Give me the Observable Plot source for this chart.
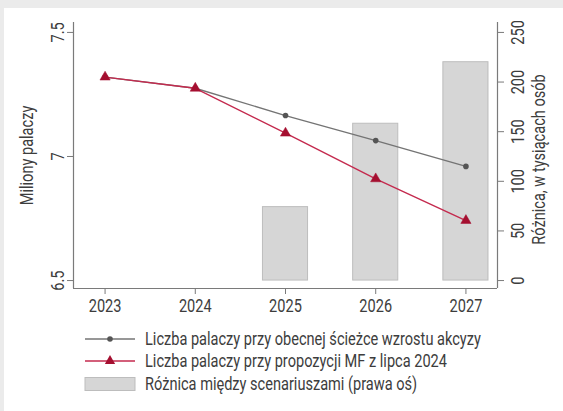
<!DOCTYPE html>
<html><head><meta charset="utf-8">
<script src="https://cdn.jsdelivr.net/npm/d3@7"></script>
<script src="https://cdn.jsdelivr.net/npm/@observablehq/plot@0.6"></script>
<style>
html,body{margin:0;padding:0}
body{width:563px;height:411px;overflow:hidden;position:relative;background:#ebebeb;font-family:Roboto,sans-serif}
#panel{position:absolute;left:4px;top:8px;right:0;bottom:0;background:#fff}
#chart{position:absolute;left:0;top:0}
#legend{position:absolute;left:0;top:320px}
</style></head><body>
<div id="panel"></div><div id="chart"></div><div id="legend"></div>
<script>
const years = [2023, 2024, 2025, 2026, 2027];
const currentPath = [7.32, 7.275, 7.165, 7.064, 6.960];
const mfProposal = [7.32, 7.275, 7.094, 6.910, 6.742];
const diffYears = [2025, 2026, 2027];
const diffValues = [74, 158, 220];
const leftTicks = [6.5, 7, 7.5];
const rightTicks = [0, 50, 100, 150, 200, 250];
const seriesNames = [
  "Liczba palaczy przy obecnej ścieżce wzrostu akcyzy",
  "Liczba palaczy przy propozycji MF z lipca 2024",
  "Różnica między scenariuszami (prawa oś)"
];
const leftTitle = "Miliony palaczy";
const rightTitle = "Różnica, w tysiącach osób";

const GRAY_LINE = "#747474", GRAY_DOT = "#555555";
const RED_LINE = "#c42a4e", RED_DOT = "#a50f30";
const BAR_FILL = "#d6d6d6", BAR_STROKE = "#bdbdbd";
const AXIS = "#7a7a7a", TEXT = "#3d3d3d";
const SQUISH = 0.81;

const xDomain = [2022.65, 2027.35];
const yDomain = [6.468, 7.54];
const toLeft = r => 6.5 + r / 250;

const cur = years.map((y, i) => ({year: y, v: currentPath[i]}));
const mf = years.map((y, i) => ({year: y, v: mfProposal[i]}));
const bars = diffYears.map((y, i) => ({year: y, v: diffValues[i]}));

const chart = Plot.plot({
  width: 563, height: 320,
  marginLeft: 73, marginRight: 66, marginTop: 22, marginBottom: 32,
  style: {background: "transparent", fontFamily: "Roboto, sans-serif", fontSize: "18px", color: TEXT, overflow: "visible"},
  x: {domain: xDomain},
  y: {domain: yDomain},
  marks: [
    Plot.rectY(bars, {x1: d => d.year - 0.25, x2: d => d.year + 0.25, y1: 6.5, y2: d => toLeft(d.v), fill: BAR_FILL, stroke: BAR_STROKE, strokeWidth: 1}),
    Plot.line(cur, {x: "year", y: "v", stroke: GRAY_LINE, strokeWidth: 1.4}),
    Plot.dot(cur, {x: "year", y: "v", r: 2.8, fill: GRAY_DOT}),
    Plot.line(mf, {x: "year", y: "v", stroke: RED_LINE, strokeWidth: 1.4}),
    Plot.dot(mf, {x: "year", y: "v", r: 3.8, symbol: "triangle", fill: RED_DOT, stroke: RED_DOT, strokeWidth: 0.5}),
    Plot.ruleX([xDomain[0], xDomain[1]], {stroke: AXIS, strokeWidth: 1.2}),
    Plot.ruleY([yDomain[0]], {stroke: AXIS, strokeWidth: 1.2}),
    Plot.axisX({ticks: years, tickFormat: d => String(d), tickSize: 6, tickPadding: 5, label: null, stroke: AXIS, fill: TEXT}),
    Plot.axisY({anchor: "left", ticks: leftTicks, tickFormat: d => String(d), tickSize: 6, tickPadding: 4, tickRotate: -90, label: null, stroke: AXIS, fill: TEXT}),
    Plot.axisY({anchor: "right", ticks: rightTicks.map(toLeft), tickFormat: d => String(Math.round((d - 6.5) * 250)), tickSize: 6, tickPadding: 8, tickRotate: -90, textAnchor: "middle", lineAnchor: "top", label: null, stroke: AXIS, fill: TEXT}),
    Plot.text([leftTitle], {frameAnchor: "left", textAnchor: "middle", dx: -46, rotate: -90, fontSize: 18, fill: TEXT, text: d => d}),
    Plot.text([rightTitle], {frameAnchor: "right", textAnchor: "middle", dx: 42, dy: 4, rotate: -90, fontSize: 18, fill: TEXT, text: d => d})
  ]
});
document.getElementById("chart").appendChild(chart);

// condensed look for the plot's texts: squish along the text direction, keeping the centre
chart.querySelectorAll("text").forEach(t => {
  const n = t.getComputedTextLength();
  if (!(n > 0)) return;
  const b0 = t.getBBox();
  const c0 = b0.x + b0.width / 2;
  t.setAttribute("textLength", n * SQUISH);
  t.setAttribute("lengthAdjust", "spacingAndGlyphs");
  const b1 = t.getBBox();
  const c1 = b1.x + b1.width / 2;
  const x = parseFloat(t.getAttribute("x")) || 0;
  if (Math.abs(c0 - c1) > 0.5) t.setAttribute("x", x + (c0 - c1));
});

// legend below the plot
const lg = d3.select("#legend").append("svg").attr("width", 563).attr("height", 91)
  .style("font-family", "Roboto, sans-serif");
const rows = [19, 41, 64];
lg.append("line").attr("x1", 85).attr("x2", 135).attr("y1", rows[0]).attr("y2", rows[0]).attr("stroke", GRAY_LINE).attr("stroke-width", 1.4);
lg.append("circle").attr("cx", 110).attr("cy", rows[0]).attr("r", 2.8).attr("fill", GRAY_DOT);
lg.append("line").attr("x1", 85).attr("x2", 135).attr("y1", rows[1]).attr("y2", rows[1]).attr("stroke", RED_LINE).attr("stroke-width", 1.4);
lg.append("path").attr("d", d3.symbol(d3.symbolTriangle, Math.PI * 3.8 * 3.8)()).attr("transform", `translate(110,${rows[1]})`).attr("fill", RED_DOT);
lg.append("rect").attr("x", 85).attr("y", rows[2] - 6.5).attr("width", 50).attr("height", 13).attr("fill", BAR_FILL).attr("stroke", BAR_STROKE);
seriesNames.forEach((s, i) => {
  lg.append("g").attr("transform", `translate(145,${rows[i]}) scale(${SQUISH},1)`)
    .append("text").attr("x", 0).attr("y", 0).attr("dy", "0.35em").attr("font-size", 18).attr("fill", TEXT).text(s);
});
</script>
</body></html>
